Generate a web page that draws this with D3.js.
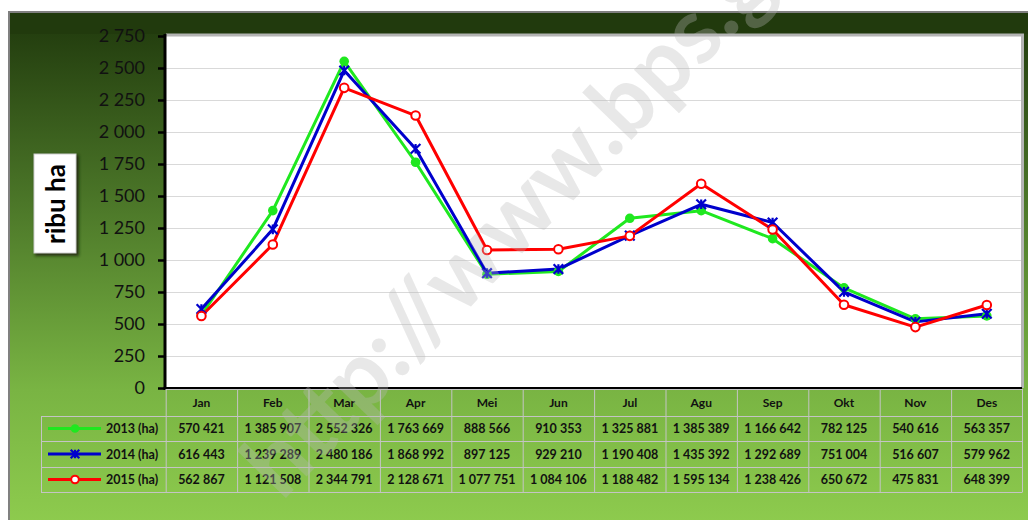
<!DOCTYPE html>
<html>
<head>
<meta charset="utf-8">
<script src="https://cdn.jsdelivr.net/npm/d3@7"></script>
<style>
  html, body { margin: 0; padding: 0; background: #fff; }
  svg { display: block; }
  text { font-family: Lato, "Open Sans", sans-serif; }
</style>
</head>
<body>
<svg id="chart" width="1028" height="520"></svg>
<script>
(function () {
  "use strict";
  // months and series (ha) as printed in the table
  var months = ["Jan", "Feb", "Mar", "Apr", "Mei", "Jun", "Jul", "Agu", "Sep", "Okt", "Nov", "Des"];
  var v2013 = [570421, 1385907, 2552326, 1763669, 888566, 910353, 1325881, 1385389, 1166642, 782125, 540616, 563357];
  var v2014 = [616443, 1239289, 2480186, 1868992, 897125, 929210, 1190408, 1435392, 1292689, 751004, 516607, 579962];
  var v2015 = [562867, 1121508, 2344791, 2128671, 1077751, 1084106, 1188482, 1595134, 1238426, 650672, 475831, 648399];
  var yTicks = [0, 250, 500, 750, 1000, 1250, 1500, 1750, 2000, 2250, 2500, 2750];
  var seriesNames = ["2013 (ha)", "2014 (ha)", "2015 (ha)"];

  var series = [
    { name: seriesNames[0], values: v2013, color: "#1fe81f", marker: "dot" },
    { name: seriesNames[1], values: v2014, color: "#0000cc", marker: "star" },
    { name: seriesNames[2], values: v2015, color: "#ff0000", marker: "ring" }
  ];

  var W = 1028, H = 520;
  var PL = 166, PR = 1021, PT = 36, PB = 388;
  var TL = 41, ROWS = [389, 416, 441, 467, 492];

  var svg = d3.select("#chart");
  var defs = svg.append("defs");
  var bg = defs.append("linearGradient").attr("id", "bg").attr("x1", 0).attr("y1", 0).attr("x2", 0).attr("y2", 1);
  bg.append("stop").attr("offset", "0%").attr("stop-color", "#1f380c");
  bg.append("stop").attr("offset", "35%").attr("stop-color", "#4b7628");
  bg.append("stop").attr("offset", "70%").attr("stop-color", "#79b443");
  bg.append("stop").attr("offset", "100%").attr("stop-color", "#92d050");
  var blur = defs.append("filter").attr("id", "sh").attr("x", "-30%").attr("y", "-30%").attr("width", "160%").attr("height", "160%");
  blur.append("feGaussianBlur").attr("stdDeviation", 1.5);

  // outer frame
  svg.append("rect").attr("x", 9).attr("y", 12).attr("width", W + 20).attr("height", H + 20)
    .attr("fill", "url(#bg)").attr("stroke", "#808080").attr("stroke-width", 2);
  svg.append("rect").attr("x", 10).attr("y", 13).attr("width", W).attr("height", 21).attr("fill", "#213a0d");

  var x = d3.scaleBand().domain(months).range([165.7, 1022.5]);
  var y = d3.scaleLinear().domain([0, 2750]).range([PB, PT]);
  var cx = function (i) { return x(months[i]) + x.bandwidth() / 2; };

  // plot area with soft shadow
  svg.append("rect").attr("x", PL).attr("y", 33.5).attr("width", PR - PL + 3).attr("height", PB - 33.5).attr("fill", "#b4b4b4");
  svg.append("rect").attr("x", PL).attr("y", PT).attr("width", PR - PL).attr("height", PB - PT).attr("fill", "#fff");

  // gridlines
  svg.append("g").selectAll("line").data(yTicks.slice(1)).enter().append("line")
    .attr("x1", PL).attr("x2", PR).attr("y1", function (d) { return y(d) + 0.5; }).attr("y2", function (d) { return y(d) + 0.5; })
    .attr("stroke", "#d9d9d9").attr("stroke-width", 1.2);

  // y axis
  var ya = svg.append("g").attr("transform", "translate(" + 165 + ",0)")
    .call(d3.axisLeft(y).tickValues(yTicks).tickSize(7).tickPadding(13)
      .tickFormat(function (d) { return d3.format(",")(d).replace(/,/g, " "); }));
  ya.select(".domain").remove();
  ya.selectAll(".tick line").attr("stroke", "#000").attr("stroke-width", 2.5);
  ya.selectAll(".tick text").attr("font-size", 18).attr("fill", "#111").attr("font-family", "Lato, sans-serif");
  svg.append("line").attr("x1", 165).attr("x2", 165).attr("y1", 34).attr("y2", 390).attr("stroke", "#000").attr("stroke-width", 3);
  svg.append("line").attr("x1", 163.5).attr("x2", 1022).attr("y1", 388).attr("y2", 388).attr("stroke", "#000").attr("stroke-width", 2);

  // y title box
  svg.append("rect").attr("x", 35).attr("y", 155).attr("width", 44).attr("height", 101).attr("fill", "#1a2410").attr("opacity", 0.8).attr("filter", "url(#sh)");
  svg.append("rect").attr("x", 34).attr("y", 154).attr("width", 42).attr("height", 99).attr("fill", "#fff").attr("stroke", "#cfcfcf");
  svg.append("text").attr("transform", "translate(65,204) rotate(-90)").attr("text-anchor", "middle")
    .attr("font-family", "Liberation Sans, Arial, sans-serif").attr("font-weight", "bold").attr("font-size", 26).attr("fill", "#000")
    .text("ribu ha");

  // lines + markers
  var line = d3.line().x(function (d, i) { return cx(i); }).y(function (d) { return y(d / 1000); });
  var gS = svg.append("g");
  series.forEach(function (s) {
    gS.append("path").attr("d", line(s.values)).attr("fill", "none").attr("stroke", s.color).attr("stroke-width", 3).attr("stroke-linejoin", "round");
  });
  function drawMarker(g, s, px, py, r) {
    if (s.marker === "dot") {
      g.append("circle").attr("cx", px).attr("cy", py).attr("r", r).attr("fill", s.color);
    } else if (s.marker === "ring") {
      g.append("circle").attr("cx", px).attr("cy", py).attr("r", r - 0.5).attr("fill", "#fff").attr("stroke", s.color).attr("stroke-width", 2);
    } else {
      var k = r;
      g.append("path").attr("d", "M" + (px - k) + "," + (py - k) + "L" + (px + k) + "," + (py + k) +
        "M" + (px - k) + "," + (py + k) + "L" + (px + k) + "," + (py - k) + "M" + px + "," + (py - k) + "L" + px + "," + (py + k))
        .attr("stroke", s.color).attr("stroke-width", 2.2).attr("fill", "none");
    }
  }
  series.forEach(function (s) {
    s.values.forEach(function (v, i) { drawMarker(gS, s, cx(i), y(v / 1000), 4.8); });
  });

  // data table
  var gT = svg.append("g");
  var grid = "#c4c4c4";
  gT.append("line").attr("x1", 165.7).attr("x2", 1022.5).attr("y1", ROWS[0] + 0.5).attr("y2", ROWS[0] + 0.5).attr("stroke", grid);
  ROWS.slice(1).forEach(function (ry) {
    gT.append("line").attr("x1", TL).attr("x2", 1022.5).attr("y1", ry + 0.5).attr("y2", ry + 0.5).attr("stroke", grid);
  });
  gT.append("line").attr("x1", TL + 0.5).attr("x2", TL + 0.5).attr("y1", ROWS[1]).attr("y2", ROWS[4]).attr("stroke", grid);
  months.forEach(function (m) {
    gT.append("line").attr("x1", x(m) + 0.5).attr("x2", x(m) + 0.5).attr("y1", ROWS[0]).attr("y2", ROWS[4]).attr("stroke", grid);
  });
  gT.append("line").attr("x1", 1022.5).attr("x2", 1022.5).attr("y1", ROWS[0]).attr("y2", ROWS[4]).attr("stroke", grid);

  var fmt = function (v) { return d3.format(",")(v).replace(/,/g, " "); };
  gT.selectAll("text.hd").data(months).enter().append("text").attr("class", "hd")
    .attr("x", function (d, i) { return cx(i); }).attr("y", (ROWS[0] + ROWS[1]) / 2 + 4.5)
    .attr("text-anchor", "middle").attr("font-weight", "bold").attr("font-size", 12).attr("fill", "#111").text(function (d) { return d; });
  series.forEach(function (s, r) {
    var ry = (ROWS[r + 1] + ROWS[r + 2]) / 2;
    s.values.forEach(function (v, i) {
      gT.append("text").attr("x", cx(i)).attr("y", ry + 4.5).attr("text-anchor", "middle")
        .attr("font-weight", "bold").attr("font-size", 12.5).attr("fill", "#111").text(fmt(v));
    });
    gT.append("line").attr("x1", 48).attr("x2", 101).attr("y1", ry).attr("y2", ry).attr("stroke", s.color).attr("stroke-width", 3);
    drawMarker(gT, s, 75, ry, 4.3);
    gT.append("text").attr("x", 106).attr("y", ry + 4.5).attr("font-weight", "bold").attr("font-size", 12.5).attr("fill", "#111").text(s.name);
  });

  // watermark
  svg.append("text").attr("transform", "translate(282,502) rotate(-46)")
    .attr("font-family", "Liberation Sans, Arial, sans-serif").attr("font-weight", "bold").attr("font-size", 92)
    .attr("fill", "#b8b8b8").attr("fill-opacity", 0.33).attr("pointer-events", "none")
    .text("http://www.bps.go.id");
})();
</script>
</body>
</html>
